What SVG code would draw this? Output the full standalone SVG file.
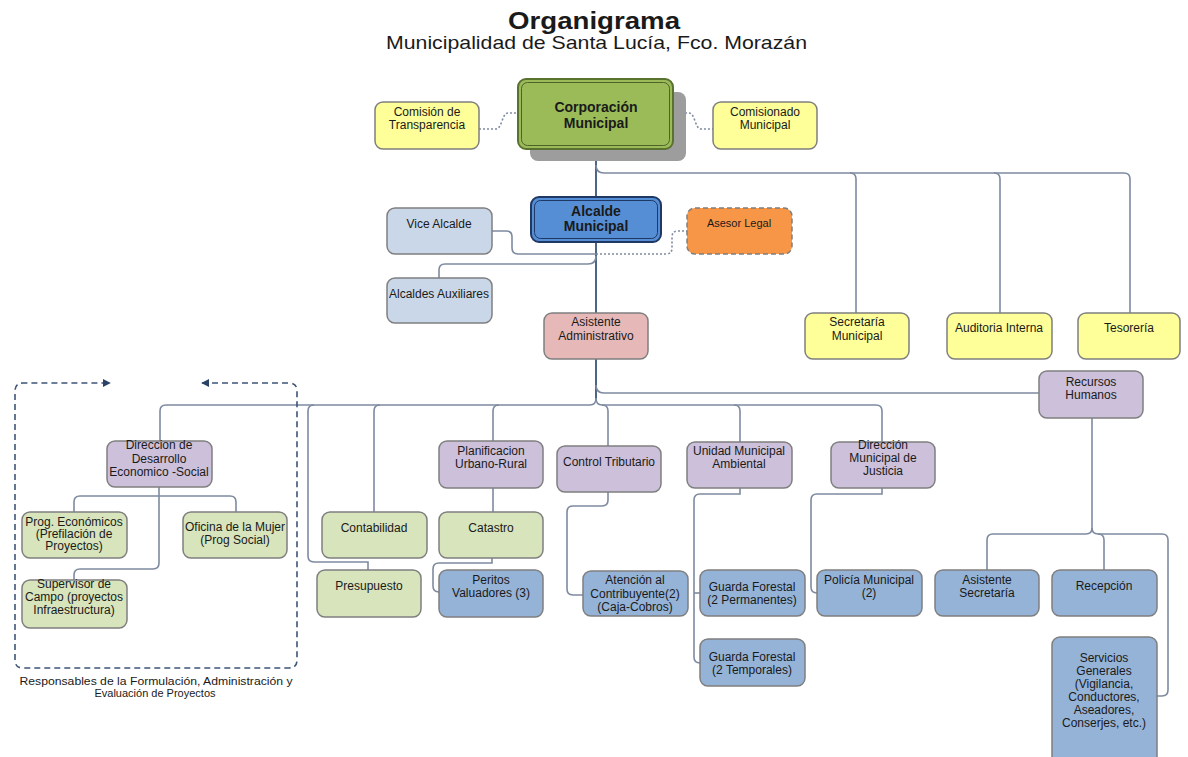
<svg xmlns="http://www.w3.org/2000/svg" width="1188" height="757" viewBox="0 0 1188 757">
<defs>
<marker id="ah" viewBox="0 0 10 10" refX="9" refY="5" markerWidth="8" markerHeight="8" markerUnits="userSpaceOnUse" orient="auto-start-reverse"><path d="M0,0 L10,5 L0,10 z" fill="#2b4368"/></marker>
</defs>
<style>
text{font-family:"Liberation Sans",Arial,sans-serif;fill:#1a1a1a;text-anchor:middle;font-size:12px}
.b{font-weight:bold;font-size:14px}
.box{stroke:#7f7f7f;stroke-width:1.5}
.y{fill:#ffff99}
.g{fill:#d7e4bc}
.p{fill:#ccc0da}
.bl{fill:#95b3d7}
.lb{fill:#c9d7e8}
.c{fill:none;stroke:#7d8aa0;stroke-width:1.6}
.m{fill:none;stroke:#3c5478;stroke-width:1.8}
.d{fill:none;stroke:#7d8aa0;stroke-width:1.6;stroke-dasharray:2 2}
</style>
<rect width="1188" height="757" fill="#fff"/>
<g id="title">
<text x="508" y="29" style="text-anchor:start;font-weight:bold;font-size:23px" textLength="172" lengthAdjust="spacingAndGlyphs">Organigrama</text>
<text x="386" y="49" style="text-anchor:start;font-size:19px" textLength="421" lengthAdjust="spacingAndGlyphs">Municipalidad de Santa Lucía, Fco. Morazán</text>
</g>
<g id="connectors">
<path class="m" d="M596,149 V402"/>
<path class="c" d="M596,165 Q596,173 604,173 H850 Q856,173 856,179 V313"/>
<path class="c" d="M850,173 H994 Q1000,173 1000,179 V313"/>
<path class="c" d="M994,173 H1124 Q1130,173 1130,179 V313"/>
<path class="d" d="M479,129 H496 C502,129 502,113 508,113 H518"/>
<path class="d" d="M673,113 H689 C695,113 695,129 701,129 H713"/>
<path class="c" d="M492,231 H506 Q512,231 512,237 V248 Q512,254 518,254 H596"/>
<path class="c" d="M596,256 Q596,264 588,264 H445 Q439,264 439,270 V278"/>
<path class="d" d="M596,254 H666 Q672,254 672,248 V237 Q672,231 678,231 H687"/>
<path class="c" d="M596,385 Q596,393 604,393 H1039"/>
<path class="c" d="M596,398 Q596,405 590,405 H166 Q160,405 160,411 V441"/>
<path class="c" d="M596,398 Q596,405 602,405 H876 Q882,405 882,411 V442"/>
<path class="c" d="M314,405 Q308,405 308,411 V556 Q308,562 314,562 H368 V570"/>
<path class="c" d="M380,405 Q374,405 374,411 V512"/>
<path class="c" d="M499,405 Q493,405 493,411 V441"/>
<path class="c" d="M602,405 Q608,405 608,411 V446"/>
<path class="c" d="M734,405 Q740,405 740,411 V442"/>
<path class="c" d="M159,487 V496"/>
<path class="c" d="M74,512 V502 Q74,496 80,496 H230 Q236,496 236,502 V512"/>
<path class="c" d="M159,496 V563 Q159,569 153,569 H80 Q74,569 74,575 V580"/>
<path class="c" d="M493,488 V512"/>
<path class="c" d="M492,558 V563 H439 Q433,563 433,569 V586 Q433,592 439,592"/>
<path class="c" d="M608,492 V500 Q608,506 602,506 H573 Q567,506 567,512 V589 Q567,595 573,595 H583"/>
<path class="c" d="M740,488 V494 H700 Q694,494 694,500 V657 Q694,663 700,663"/>
<path class="c" d="M694,593 H700"/>
<path class="c" d="M882,488 V494 H817 Q811,494 811,500 V587 Q811,593 817,593"/>
<path class="c" d="M1092,418 V528 Q1092,534 1086,534 H993 Q987,534 987,540 V570"/>
<path class="c" d="M1092,528 Q1092,534 1098,534 H1162 Q1168,534 1168,540 V690 Q1168,696 1162,696 H1157"/>
<path class="c" d="M1098,534 Q1104,534 1104,540 V570"/>
</g>
<g id="group-frame">
<path d="M202,383 H289 Q297,383 297,391 V660 Q297,668 289,668 H23 Q15,668 15,660 V391 Q15,383 23,383 H110" fill="none" stroke="#3c5478" stroke-width="1.6" stroke-dasharray="6 4" marker-start="url(#ah)" marker-end="url(#ah)"/>
<text x="156" y="685" style="font-size:11px" textLength="273" lengthAdjust="spacingAndGlyphs">Responsables de la Formulación, Administración y</text>
<text x="155" y="697" style="font-size:11px">Evaluación de Proyectos</text>
</g>
<g id="corporacion">
<rect x="530" y="92" width="156" height="69" rx="8" fill="#9d9d9d"/>
<rect x="518" y="79" width="155" height="70" rx="8" fill="#9bbb59" stroke="#5a7230" stroke-width="2"/>
<rect x="521.5" y="82.5" width="148" height="63" rx="6" fill="none" stroke="#4f6228" stroke-width="1"/>
<text class="b" x="596" y="112">Corporación</text>
<text class="b" x="596" y="128">Municipal</text>
</g>
<g id="comision-transparencia"><rect class="box y" x="375" y="102" width="104" height="47" rx="8"/><text x="427" y="116">Comisión de</text><text x="427" y="129">Transparencia</text></g>
<g id="comisionado"><rect class="box y" x="713" y="102" width="104" height="47" rx="8"/><text x="765" y="116">Comisionado</text><text x="765" y="129">Municipal</text></g>
<g id="alcalde">
<rect x="531" y="197" width="130" height="45" rx="8" fill="#558ed5" stroke="#1f3864" stroke-width="2"/>
<rect x="534.5" y="200.5" width="123" height="38" rx="6" fill="none" stroke="#1f3864" stroke-width="1"/>
<text class="b" x="596" y="216">Alcalde</text>
<text class="b" x="596" y="231">Municipal</text>
</g>
<g id="vice-alcalde"><rect class="box lb" x="387" y="208" width="105" height="46" rx="8"/><text x="439" y="228">Vice Alcalde</text></g>
<g id="asesor-legal"><rect x="687" y="208" width="105" height="46" rx="8" fill="#f79646" stroke="#7f7f7f" stroke-width="1.5" stroke-dasharray="5 3"/><text x="739" y="227" style="font-size:11px">Asesor Legal</text></g>
<g id="alcaldes-auxiliares"><rect class="box lb" x="387" y="278" width="105" height="45" rx="8"/><text x="439" y="298">Alcaldes Auxiliares</text></g>
<g id="asistente-admin"><rect class="box" x="544" y="313" width="104" height="46" rx="8" fill="#e6b9b8"/><text x="596" y="326">Asistente</text><text x="596" y="340">Administrativo</text></g>
<g id="secretaria"><rect class="box y" x="805" y="313" width="104" height="46" rx="8"/><text x="857" y="326">Secretaría</text><text x="857" y="340">Municipal</text></g>
<g id="auditoria"><rect class="box y" x="947" y="313" width="105" height="46" rx="8"/><text x="999" y="332">Auditoria Interna</text></g>
<g id="tesoreria"><rect class="box y" x="1078" y="313" width="102" height="46" rx="8"/><text x="1129" y="332">Tesorería</text></g>
<g id="recursos-humanos"><rect class="box p" x="1039" y="371" width="104" height="47" rx="8"/><text x="1091" y="386">Recursos</text><text x="1091" y="399">Humanos</text></g>
<g id="dir-desarrollo"><rect class="box p" x="107" y="441" width="105" height="46" rx="8"/><text x="159" y="449">Direccion de</text><text x="159" y="463">Desarrollo</text><text x="159" y="476">Economico -Social</text></g>
<g id="prog-economicos"><rect class="box g" x="22" y="512" width="105" height="46" rx="8"/><text x="74" y="526">Prog. Económicos</text><text x="74" y="538">(Prefilación de</text><text x="74" y="550">Proyectos)</text></g>
<g id="oficina-mujer"><rect class="box g" x="183" y="512" width="104" height="46" rx="8"/><text x="235" y="531">Oficina de la Mujer</text><text x="235" y="544">(Prog Social)</text></g>
<g id="supervisor-campo"><rect class="box g" x="22" y="580" width="105" height="48" rx="8"/><text x="74" y="588">Supervisor de</text><text x="74" y="601">Campo (proyectos</text><text x="74" y="614">Infraestructura)</text></g>
<g id="contabilidad"><rect class="box g" x="322" y="512" width="105" height="46" rx="8"/><text x="374" y="532">Contabilidad</text></g>
<g id="presupuesto"><rect class="box g" x="317" y="570" width="104" height="47" rx="8"/><text x="369" y="590">Presupuesto</text></g>
<g id="planificacion"><rect class="box p" x="439" y="441" width="104" height="47" rx="8"/><text x="491" y="455">Planificacion</text><text x="491" y="468">Urbano-Rural</text></g>
<g id="catastro"><rect class="box g" x="439" y="512" width="104" height="46" rx="8"/><text x="491" y="532">Catastro</text></g>
<g id="peritos"><rect class="box bl" x="439" y="570" width="104" height="47" rx="8"/><text x="491" y="584">Peritos</text><text x="491" y="597">Valuadores (3)</text></g>
<g id="control-tributario"><rect class="box p" x="557" y="446" width="104" height="46" rx="8"/><text x="609" y="466">Control Tributario</text></g>
<g id="atencion"><rect class="box bl" x="583" y="571" width="105" height="45" rx="8"/><text x="635" y="584">Atención al</text><text x="635" y="598">Contribuyente(2)</text><text x="635" y="611">(Caja-Cobros)</text></g>
<g id="uma"><rect class="box p" x="687" y="442" width="105" height="46" rx="8"/><text x="739" y="455">Unidad Municipal</text><text x="739" y="468">Ambiental</text></g>
<g id="guarda-perm"><rect class="box bl" x="700" y="570" width="105" height="46" rx="8"/><text x="752" y="591">Guarda Forestal</text><text x="752" y="604">(2 Permanentes)</text></g>
<g id="guarda-temp"><rect class="box bl" x="700" y="639" width="105" height="47" rx="8"/><text x="752" y="661">Guarda Forestal</text><text x="752" y="674">(2 Temporales)</text></g>
<g id="dir-justicia"><rect class="box p" x="831" y="442" width="104" height="46" rx="8"/><text x="883" y="449">Dirección</text><text x="883" y="462">Municipal de</text><text x="883" y="475">Justicia</text></g>
<g id="policia"><rect class="box bl" x="817" y="570" width="105" height="46" rx="8"/><text x="869" y="584">Policía Municipal</text><text x="869" y="597">(2)</text></g>
<g id="asistente-secretaria"><rect class="box bl" x="935" y="570" width="104" height="46" rx="8"/><text x="987" y="584">Asistente</text><text x="987" y="597">Secretaría</text></g>
<g id="recepcion"><rect class="box bl" x="1052" y="570" width="105" height="46" rx="8"/><text x="1104" y="590">Recepción</text></g>
<g id="servicios-generales"><rect class="box bl" x="1052" y="637" width="105" height="130" rx="8"/><text x="1104" y="662">Servicios</text><text x="1104" y="675">Generales</text><text x="1104" y="688">(Vigilancia,</text><text x="1104" y="701">Conductores,</text><text x="1104" y="714">Aseadores,</text><text x="1104" y="727">Conserjes, etc.)</text></g>
</svg>
